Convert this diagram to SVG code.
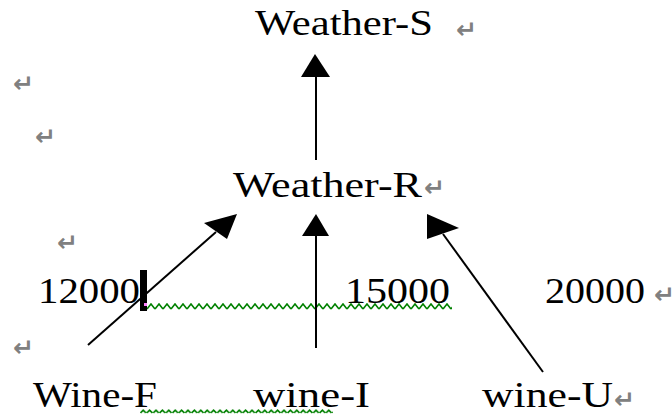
<svg xmlns="http://www.w3.org/2000/svg" width="672" height="416" viewBox="0 0 672 416">
<style>
.t{font-family:"Liberation Serif","Times New Roman",serif;font-size:35px;fill:#000}
.p{font-family:"DejaVu Sans",sans-serif;font-size:25px;font-weight:bold;fill:#808080}
.ln{stroke:#000;stroke-width:2;fill:none}
.hd{fill:#000}
</style>
<defs>
<pattern id="wave" x="147" y="303" width="8" height="7" patternUnits="userSpaceOnUse">
<path d="M0,6 L4,1 L8,6" stroke="#008000" stroke-width="1.6" fill="none"/>
</pattern>
<pattern id="dots" x="140" y="409" width="6.4" height="5" patternUnits="userSpaceOnUse">
<path d="M0.5,4 L3.2,1.2 L5.9,4" stroke="#008000" stroke-width="1.6" fill="none"/>
</pattern>
</defs>
<rect width="672" height="416" fill="#fff"/>

<g id="marks">
<text class="p" x="13" y="92">↵</text>
<text class="p" x="35" y="145">↵</text>
<text class="p" x="57" y="251">↵</text>
<text class="p" x="13" y="356">↵</text>
</g>

<g id="node-weather-s">
<text class="t" x="255" y="35" textLength="178" lengthAdjust="spacingAndGlyphs">Weather-S</text>
<text class="p" x="456" y="38">↵</text>
</g>
<g id="node-weather-r">
<text class="t" x="233" y="197" textLength="189" lengthAdjust="spacingAndGlyphs">Weather-R</text>
<text class="p" x="424" y="196">↵</text>
</g>
<g id="node-12000">
<text class="t" x="38" y="303" textLength="102" lengthAdjust="spacingAndGlyphs">12000</text>
<rect x="140" y="270" width="7" height="41" fill="#000"/>
<rect x="144" y="303" width="3" height="3" fill="#ff80ff"/>
</g>
<g id="node-15000">
<text class="t" x="345" y="303" textLength="105" lengthAdjust="spacingAndGlyphs">15000</text>
</g>
<rect x="147" y="303" width="305" height="7" fill="url(#wave)"/>
<g id="node-20000">
<text class="t" x="545" y="303" textLength="100" lengthAdjust="spacingAndGlyphs">20000</text>
<text class="p" x="654" y="303">↵</text>
</g>
<g id="node-wine-f">
<text class="t" x="33" y="407" textLength="124" lengthAdjust="spacingAndGlyphs">Wine-F</text>
</g>
<rect x="140" y="409" width="193" height="5" fill="url(#dots)"/>
<g id="node-wine-i">
<text class="t" x="253" y="407" textLength="117" lengthAdjust="spacingAndGlyphs">wine-I</text>
</g>
<g id="node-wine-u">
<text class="t" x="482" y="407" textLength="131" lengthAdjust="spacingAndGlyphs">wine-U</text>
<text class="p" x="614" y="408">↵</text>
</g>

<g id="connectors">
<line class="ln" x1="316" y1="160" x2="316" y2="76"/>
<polygon class="hd" points="315,54 301,77 330,77"/>
<line class="ln" x1="316" y1="348" x2="316" y2="234"/>
<polygon class="hd" points="316,214 302,236 329,236"/>
<line class="ln" x1="88" y1="345" x2="216" y2="232" stroke-width="1.6"/>
<polygon class="hd" points="237,214 204,223 227,239"/>
<line class="ln" x1="543" y1="372" x2="443" y2="234" stroke-width="1.6"/>
<polygon class="hd" points="427,214 427,239 459,228"/>
</g>
</svg>
